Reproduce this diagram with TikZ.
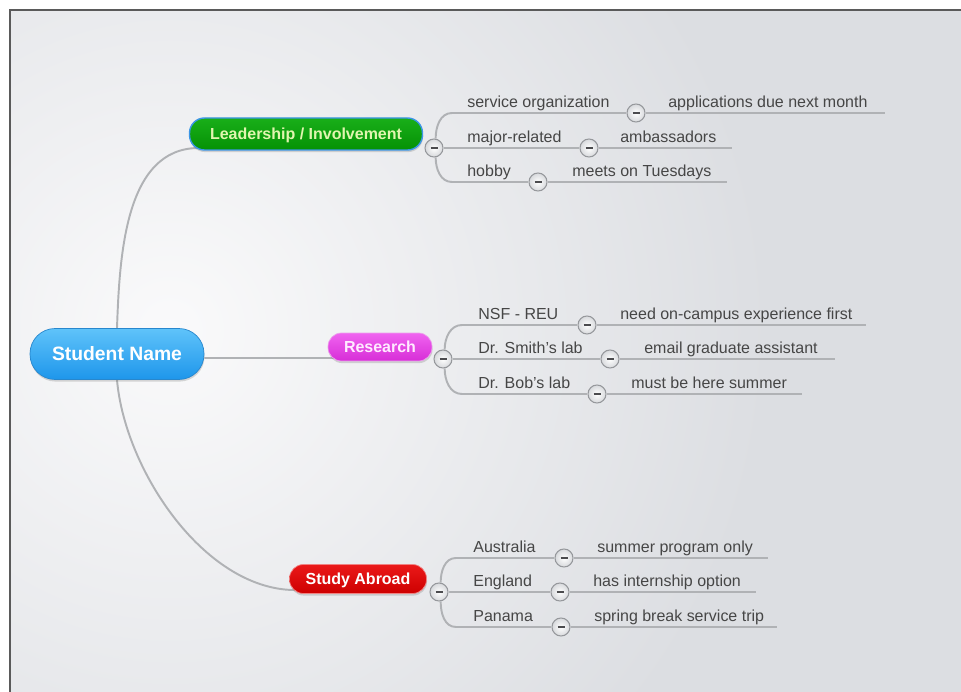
\documentclass[tikz,border=0pt]{standalone}
\usepackage{fontspec}
\setmainfont{Liberation Sans}
\usetikzlibrary{shadows,backgrounds}

\definecolor{bggray}{RGB}{220,222,226}
\definecolor{bglight}{RGB}{250,250,251}
\definecolor{framegray}{RGB}{90,90,90}
\definecolor{linegray}{RGB}{176,178,181}
\definecolor{itemgray}{RGB}{70,70,70}
\definecolor{knobedge}{RGB}{150,152,156}
\definecolor{knobfill}{RGB}{215,217,220}
\definecolor{minusgray}{RGB}{75,75,78}
\definecolor{centretop}{RGB}{95,195,250}
\definecolor{centrebot}{RGB}{30,150,235}
\definecolor{centreedge}{RGB}{40,135,205}
\definecolor{leadtop}{RGB}{25,175,25}
\definecolor{leadbot}{RGB}{5,145,5}
\definecolor{leadedge}{RGB}{60,150,230}
\definecolor{leadtext}{RGB}{225,245,175}
\definecolor{restop}{RGB}{240,100,240}
\definecolor{resbot}{RGB}{215,45,215}
\definecolor{resedge}{RGB}{235,160,235}
\definecolor{restext}{RGB}{255,235,255}
\definecolor{abrtop}{RGB}{235,25,25}
\definecolor{abrbot}{RGB}{205,0,0}
\definecolor{abredge}{RGB}{240,130,130}

\begin{document}
\begin{tikzpicture}
		[x=0.02cm, y=-0.02cm,
		pill/.style ={rectangle, inner sep=0pt, text depth=0pt, font=\fontsize{9.1}{11}\selectfont\bfseries, drop shadow={opacity=0.3, shadow xshift=0.3pt, shadow yshift=-1.2pt}},
		centre/.style ={pill, font=\fontsize{11}{13}\selectfont\bfseries, text=white, minimum width=3.48cm, minimum height=1.02cm, rounded corners=0.5cm, top color=centretop, bottom color=centrebot, draw=centreedge},
		leadbox/.style ={pill, text=leadtext, minimum width=4.66cm, minimum height=0.64cm, rounded corners=0.3cm, top color=leadtop, bottom color=leadbot, draw=leadedge, line width=0.8pt},
		resbox/.style ={pill, text=restext, minimum width=2.08cm, minimum height=0.56cm, rounded corners=0.27cm, top color=restop, bottom color=resbot, draw=resedge},
		abroadbox/.style ={pill, text=white, minimum width=2.74cm, minimum height=0.58cm, rounded corners=0.28cm, top color=abrtop, bottom color=abrbot, draw=abredge},
		itemtext/.style ={anchor=base west, inner sep=0pt, text=itemgray, font=\fontsize{9.1}{11}\selectfont},
		knob/.style ={circle, draw=knobedge, line width=0.6pt, inner color=white, outer color=knobfill, minimum size=0.36cm, inner sep=0pt,
			path picture={\draw[minusgray, line width=1.3pt] ([xshift=-0.07cm]path picture bounding box.center) -- ([xshift=0.07cm]path picture bounding box.center);}},
		conn/.style ={draw=linegray, line width=1.1pt},
		]

		\useasboundingbox (0,0) rectangle (961,692);
		\begin{scope}[on background layer]
			\fill[white] (-10,-10) rectangle (975,705);
			\fill[bggray] (10,10) rectangle (975,705);
			\begin{scope}
				\clip (10,10) rectangle (975,705);
				\shade[inner color=bglight, outer color=bggray] (170,330) circle [radius=12cm];
			\end{scope}
			\draw[framegray, line width=1.2pt] (10,705) -- (10,10) -- (975,10);
		\end{scope}

		\draw (117,354) node[centre] (stu) {Student Name};
		\draw (306,134) node[leadbox] (lead) {Leadership / Involvement};
		\draw (380,347) node[resbox] (res) {Research};
		\draw (358,579) node[abroadbox] (abr) {Study Abroad};

		\draw (434,148) node[knob] (kl) {};
		\draw (443,359) node[knob] (kr) {};
		\draw (439,592) node[knob] (ka) {};

		\draw (467,108) node[itemtext] (l1) {service organization};
		\draw (467,143) node[itemtext] (l2) {major-related};
		\draw (467,177) node[itemtext] (l3) {hobby};
		\draw (668,108) node[itemtext] (l1a) {applications due next month};
		\draw (620,143) node[itemtext] (l2a) {ambassadors};
		\draw (572,177) node[itemtext] (l3a) {meets on Tuesdays};
		\draw (636,113) node[knob] (kl1) {};
		\draw (589,148) node[knob] (kl2) {};
		\draw (538,182) node[knob] (kl3) {};
		\draw (452,113) coordinate (sl1);
		\draw (452,182) coordinate (sl3);
		\draw (885,113) coordinate (el1);
		\draw (732,148) coordinate (el2);
		\draw (727,182) coordinate (el3);

		\draw (478,320) node[itemtext] (r1) {NSF - REU};
		\draw (478,354) node[itemtext] (r2) {Dr. Smith's lab};
		\draw (478,389) node[itemtext] (r3) {Dr. Bob's lab};
		\draw (620,320) node[itemtext] (r1a) {need on-campus experience first};
		\draw (644,354) node[itemtext] (r2a) {email graduate assistant};
		\draw (631,389) node[itemtext] (r3a) {must be here summer};
		\draw (587,325) node[knob] (kr1) {};
		\draw (610,359) node[knob] (kr2) {};
		\draw (597,394) node[knob] (kr3) {};
		\draw (462,325) coordinate (sr1);
		\draw (462,394) coordinate (sr3);
		\draw (866,325) coordinate (er1);
		\draw (835,359) coordinate (er2);
		\draw (802,394) coordinate (er3);

		\draw (473,553) node[itemtext] (a1) {Australia};
		\draw (473,587) node[itemtext] (a2) {England};
		\draw (473,622) node[itemtext] (a3) {Panama};
		\draw (597,553) node[itemtext] (a1a) {summer program only};
		\draw (593,587) node[itemtext] (a2a) {has internship option};
		\draw (594,622) node[itemtext] (a3a) {spring break service trip};
		\draw (564,558) node[knob] (ka1) {};
		\draw (560,592) node[knob] (ka2) {};
		\draw (561,627) node[knob] (ka3) {};
		\draw (456,558) coordinate (sa1);
		\draw (456,627) coordinate (sa3);
		\draw (768,558) coordinate (ea1);
		\draw (756,592) coordinate (ea2);
		\draw (777,627) coordinate (ea3);

		\begin{scope}[on background layer]
			\path[conn]
			(stu.north) edge[out=88,in=180,looseness=0.95] ([shift={(0.2cm,-0.28cm)}]lead.west)
			(stu.south) edge[out=-85,in=182,looseness=0.85] ([shift={(0.2cm,-0.22cm)}]abr.west)
			([yshift=-0.08cm]stu.east) edge ([shift={(0.2cm,-0.22cm)}]res.west);
		\end{scope}

		\path[conn]
		(kl.80) edge[out=90,in=180] (sl1)
		(kl.-80) edge[out=-90,in=180] (sl3)
		(sl1) edge (kl1)
		(kl1) edge (el1)
		(kl) edge (kl2)
		(kl2) edge (el2)
		(sl3) edge (kl3)
		(kl3) edge (el3)
		(kr.80) edge[out=90,in=180] (sr1)
		(kr.-80) edge[out=-90,in=180] (sr3)
		(sr1) edge (kr1)
		(kr1) edge (er1)
		(kr) edge (kr2)
		(kr2) edge (er2)
		(sr3) edge (kr3)
		(kr3) edge (er3)
		(ka.80) edge[out=90,in=180] (sa1)
		(ka.-80) edge[out=-90,in=180] (sa3)
		(sa1) edge (ka1)
		(ka1) edge (ea1)
		(ka) edge (ka2)
		(ka2) edge (ea2)
		(sa3) edge (ka3)
		(ka3) edge (ea3);

	\end{tikzpicture}
\end{document}
